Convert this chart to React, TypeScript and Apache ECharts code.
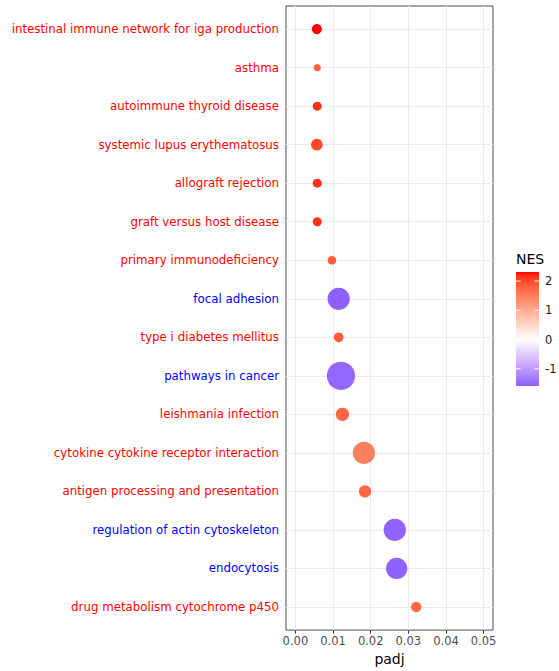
import React, { useEffect, useRef } from "react";
import * as echarts from "echarts";

// Pathways listed top to bottom as drawn
const categories = [
  "intestinal immune network for iga production",
  "asthma",
  "autoimmune thyroid disease",
  "systemic lupus erythematosus",
  "allograft rejection",
  "graft versus host disease",
  "primary immunodeficiency",
  "focal adhesion",
  "type i diabetes mellitus",
  "pathways in cancer",
  "leishmania infection",
  "cytokine cytokine receptor interaction",
  "antigen processing and presentation",
  "regulation of actin cytoskeleton",
  "endocytosis",
  "drug metabolism cytochrome p450",
];
const padj = [
  0.0057, 0.0058, 0.0058, 0.0057, 0.0058, 0.0058, 0.0097, 0.0115, 0.0115,
  0.0121, 0.0125, 0.0182, 0.0185, 0.0264, 0.0269, 0.0321,
];
const nes = [
  2.31, 1.8, 2.15, 2.0, 2.15, 2.15, 1.85, -1.59, 1.85, -1.52, 1.75, 1.5,
  1.75, -1.56, -1.57, 1.75,
];
const setSize = [35, 30, 32, 43, 32, 32, 31, 180, 34, 325, 54, 180, 47, 180, 161, 36];
const xTicks = [0, 0.01, 0.02, 0.03, 0.04, 0.05];
const xMinorTicks = [0.005, 0.015, 0.025, 0.035, 0.045];
const nesTicks = [2, 1, 0, -1];

// ---- colour helpers (ggplot2 gradient2 in Lab space) ----
const XN = 0.95047, YN = 1.0, ZN = 1.08883;
function hexToLab(hex: string): number[] {
  const n = parseInt(hex.slice(1), 16);
  const rgb = [(n >> 16) & 255, (n >> 8) & 255, n & 255].map((c) => {
    const v = c / 255;
    return v <= 0.04045 ? v / 12.92 : Math.pow((v + 0.055) / 1.055, 2.4);
  });
  const [r, g, b] = rgb;
  const X = 0.4124564 * r + 0.3575761 * g + 0.1804375 * b;
  const Y = 0.2126729 * r + 0.7151522 * g + 0.072175 * b;
  const Z = 0.0193339 * r + 0.119192 * g + 0.9503041 * b;
  const f = (t: number) => (t > 0.008856 ? Math.cbrt(t) : 7.787 * t + 16 / 116);
  const fx = f(X / XN), fy = f(Y / YN), fz = f(Z / ZN);
  return [116 * fy - 16, 500 * (fx - fy), 200 * (fy - fz)];
}
function labToHex(L: number, a: number, b: number): string {
  const fy = (L + 16) / 116;
  const fx = fy + a / 500;
  const fz = fy - b / 200;
  const finv = (f: number) => (f * f * f > 0.008856 ? f * f * f : (f - 16 / 116) / 7.787);
  const X = XN * finv(fx), Y = YN * finv(fy), Z = ZN * finv(fz);
  const lin = [
    3.2404542 * X - 1.5371385 * Y - 0.4985314 * Z,
    -0.969266 * X + 1.8760108 * Y + 0.041556 * Z,
    0.0556434 * X - 0.2040259 * Y + 1.0572252 * Z,
  ];
  return (
    "#" +
    lin
      .map((c) => {
        const v = c <= 0.0031308 ? 12.92 * c : 1.055 * Math.pow(c, 1 / 2.4) - 0.055;
        const k = Math.max(0, Math.min(255, Math.round(v * 255)));
        return k.toString(16).padStart(2, "0");
      })
      .join("")
  );
}
const LOW = hexToLab("#0000FF");
const MID = hexToLab("#FFFFFF");
const HIGH = hexToLab("#FF0000");
const nesMin = Math.min(...nes);
const nesMax = Math.max(...nes);
const nesAbs = Math.max(Math.abs(nesMin), Math.abs(nesMax));
function nesColor(v: number): string {
  const t = v / nesAbs;
  const end = t < 0 ? LOW : HIGH;
  const f = Math.min(1, Math.abs(t));
  return labToHex(
    MID[0] + (end[0] - MID[0]) * f,
    MID[1] + (end[1] - MID[1]) * f,
    MID[2] + (end[2] - MID[2]) * f
  );
}

const sizeMin = Math.min(...setSize);
const sizeMax = Math.max(...setSize);
function diameter(v: number): number {
  return 7.3 + Math.sqrt((v - sizeMin) / (sizeMax - sizeMin)) * 21;
}

const FONT = "DejaVu Sans";

export default function App() {
  const ref = useRef<HTMLDivElement>(null);
  useEffect(() => {
    if (!ref.current) return;
    const chart = echarts.init(ref.current, undefined, { renderer: "svg" });

    const gridLeft = 286, gridTop = 6, gridW = 207, gridH = 625;
    const barX = 516, barY = 272, barW = 23, barH = 114;
    const nStops = 40;
    const stops = [];
    for (let i = 0; i <= nStops; i++) {
      const v = nesMin + ((nesMax - nesMin) * i) / nStops;
      stops.push({ offset: i / nStops, color: nesColor(v) });
    }
    const yOf = (v: number) => barY + ((nesMax - v) / (nesMax - nesMin)) * barH;
    const legendEls: any[] = [
      {
        type: "text",
        x: barX,
        y: 259,
        style: { text: "NES", fontSize: 14, fontFamily: FONT, fill: "#000", verticalAlign: "middle" },
      },
      {
        type: "rect",
        shape: { x: barX, y: barY, width: barW, height: barH },
        style: {
          fill: { type: "linear", x: 0, y: 1, x2: 0, y2: 0, colorStops: stops },
        },
      },
    ];
    nesTicks.forEach((t) => {
      const y = yOf(t);
      legendEls.push(
        {
          type: "line",
          shape: { x1: barX, y1: y, x2: barX + barW / 5, y2: y },
          style: { stroke: "#fff", lineWidth: 1 },
        },
        {
          type: "line",
          shape: { x1: barX + barW - barW / 5, y1: y, x2: barX + barW, y2: y },
          style: { stroke: "#fff", lineWidth: 1 },
        },
        {
          type: "text",
          x: barX + barW + 6,
          y,
          style: { text: String(t), fontSize: 11.5, fontFamily: FONT, fill: "#1a1a1a", verticalAlign: "middle" },
        }
      );
    });

    const idx = categories.map((_, i) => i + 1);

    chart.setOption({
      animation: false,
      backgroundColor: "#ffffff",
      grid: {
        left: gridLeft,
        top: gridTop,
        width: gridW,
        height: gridH,
        containLabel: false,
        show: true,
        backgroundColor: "#ffffff",
        borderColor: "#4d4d4d",
        borderWidth: 1,
      },
      xAxis: {
        type: "value",
        min: -0.0025,
        max: 0.0525,
        name: "padj",
        nameLocation: "middle",
        nameGap: 20,
        nameTextStyle: { fontSize: 14, fontFamily: FONT, color: "#000", verticalAlign: "top" },
        axisLine: { show: false },
        splitLine: { show: false },
        axisTick: { show: true, length: 3.5, customValues: xTicks, lineStyle: { color: "#333333" } },
        axisLabel: {
          customValues: xTicks,
          formatter: (v: number) => v.toFixed(2),
          color: "#4d4d4d",
          fontSize: 11.5,
          fontFamily: FONT,
          margin: 5,
        },
      },
      yAxis: {
        type: "value",
        inverse: true,
        min: 0.4,
        max: categories.length + 0.6,
        axisLine: { show: false },
        splitLine: { show: false },
        axisTick: { show: true, length: 3.5, customValues: idx, lineStyle: { color: "#333333" } },
        axisLabel: {
          customValues: idx,
          margin: 7,
          formatter: (v: number) => {
            const i = Math.round(v) - 1;
            return `{${nes[i] > 0 ? "r" : "b"}|${categories[i]}}`;
          },
          rich: {
            r: { color: "#ff0000", fontSize: 11.8, fontFamily: FONT },
            b: { color: "#0000ff", fontSize: 11.8, fontFamily: FONT },
          },
        },
      },
      series: [
        {
          type: "scatter",
          data: [],
          z: 1,
          silent: true,
          markLine: {
            silent: true,
            z: 1,
            symbol: ["none", "none"],
            label: { show: false },
            lineStyle: { color: "#ebebeb", width: 1.1, type: "solid" },
            data: [
              ...xTicks.map((v) => ({ xAxis: v })),
              ...xMinorTicks.map((v) => ({ xAxis: v, lineStyle: { color: "#ebebeb", width: 0.7, type: "solid" } })),
              ...idx.map((v) => ({ yAxis: v })),
            ],
          },
        },
        {
          type: "scatter",
          z: 10,
          data: categories.map((c, i) => [padj[i], i + 1, nes[i], setSize[i], c]),
          symbol: "circle",
          symbolSize: (d: number[]) => diameter(d[3]),
          itemStyle: {
            opacity: 1,
            color: (p: any) => nesColor(p.data[2]),
          },
        },
      ],
      graphic: legendEls,
    });
    return () => chart.dispose();
  }, []);
  return (
    <div
      ref={ref}
      style={{ position: "fixed", left: 0, top: 0, width: 559, height: 671 }}
    />
  );
}
